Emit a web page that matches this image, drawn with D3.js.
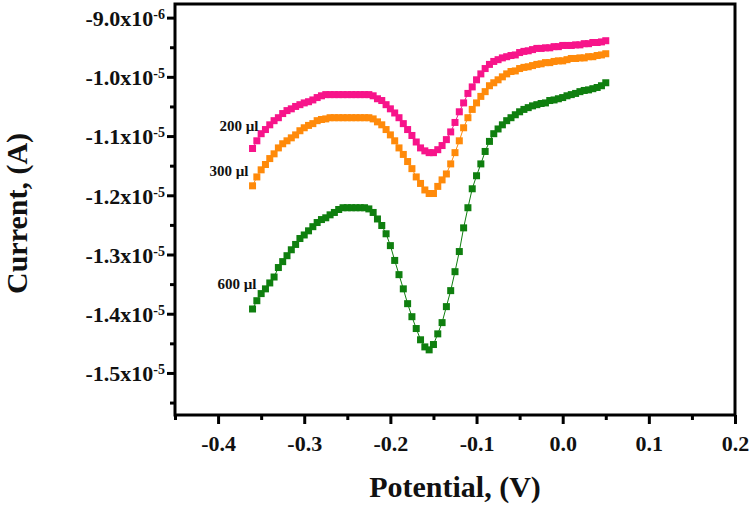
<!DOCTYPE html>
<html><head><meta charset="utf-8">
<script src="https://cdn.jsdelivr.net/npm/d3@7"></script>
<style>
body{margin:0;background:#fff}
svg{display:block}
.lbl{font-family:'Liberation Serif','Times New Roman',serif;font-weight:bold;fill:#111}
</style>
</head><body>
<svg id="c" width="750" height="508" viewBox="0 0 750 508"></svg>
<script>
const potential = [
-0.36,-0.355,-0.35,-0.345,-0.34,-0.335,-0.33,-0.325,-0.32,-0.315,
-0.31,-0.305,-0.3,-0.295,-0.29,-0.285,-0.28,-0.275,-0.27,-0.265,
-0.26,-0.255,-0.25,-0.245,-0.24,-0.235,-0.23,-0.225,-0.22,-0.215,
-0.21,-0.205,-0.2,-0.195,-0.19,-0.185,-0.18,-0.175,-0.17,-0.165,
-0.16,-0.155,-0.15,-0.145,-0.14,-0.135,-0.13,-0.125,-0.12,-0.115,
-0.11,-0.105,-0.1,-0.095,-0.09,-0.085,-0.08,-0.075,-0.07,-0.065,
-0.06,-0.055,-0.05,-0.045,-0.04,-0.035,-0.03,-0.025,-0.02,-0.015,
-0.01,-0.005,0,0.005,0.01,0.015,0.02,0.025,0.03,0.035,
0.04,0.045,0.05];
// currents in microampere (x1e-6 A)
const current200 = [
-11.21,-11.08,-10.96,-10.89,-10.81,-10.74,-10.69,-10.62,-10.57,-10.54,
-10.50,-10.47,-10.44,-10.42,-10.39,-10.35,-10.32,-10.30,-10.30,-10.30,
-10.30,-10.30,-10.30,-10.30,-10.30,-10.30,-10.30,-10.30,-10.32,-10.37,
-10.40,-10.47,-10.54,-10.61,-10.69,-10.79,-10.89,-10.99,-11.10,-11.20,
-11.25,-11.28,-11.28,-11.23,-11.16,-11.06,-10.93,-10.77,-10.59,-10.44,
-10.28,-10.17,-10.05,-9.95,-9.86,-9.79,-9.74,-9.71,-9.68,-9.66,
-9.64,-9.63,-9.59,-9.57,-9.56,-9.54,-9.52,-9.52,-9.51,-9.51,
-9.49,-9.49,-9.47,-9.47,-9.47,-9.46,-9.46,-9.44,-9.44,-9.42,
-9.42,-9.41,-9.39];
const current300 = [
-11.84,-11.69,-11.57,-11.48,-11.38,-11.30,-11.20,-11.13,-11.08,-11.03,
-10.98,-10.91,-10.86,-10.82,-10.79,-10.74,-10.72,-10.71,-10.69,-10.69,
-10.69,-10.69,-10.69,-10.69,-10.69,-10.69,-10.69,-10.69,-10.71,-10.76,
-10.81,-10.89,-10.98,-11.08,-11.20,-11.31,-11.43,-11.55,-11.69,-11.80,
-11.91,-11.97,-11.97,-11.85,-11.74,-11.64,-11.47,-11.28,-11.08,-10.86,
-10.69,-10.55,-10.44,-10.33,-10.25,-10.15,-10.10,-10.05,-10.00,-9.95,
-9.91,-9.90,-9.86,-9.84,-9.83,-9.81,-9.79,-9.78,-9.76,-9.76,
-9.74,-9.73,-9.73,-9.71,-9.69,-9.69,-9.68,-9.68,-9.66,-9.66,
-9.64,-9.63,-9.61];
const current600 = [
-13.92,-13.78,-13.66,-13.58,-13.48,-13.38,-13.22,-13.12,-13.02,-12.92,
-12.83,-12.73,-12.67,-12.60,-12.53,-12.46,-12.41,-12.38,-12.33,-12.29,
-12.24,-12.21,-12.21,-12.21,-12.21,-12.21,-12.21,-12.23,-12.29,-12.40,
-12.51,-12.65,-12.85,-13.10,-13.34,-13.58,-13.83,-14.05,-14.25,-14.44,
-14.56,-14.61,-14.52,-14.34,-14.15,-13.88,-13.61,-13.29,-12.95,-12.55,
-12.21,-11.89,-11.67,-11.47,-11.26,-11.09,-10.96,-10.88,-10.81,-10.74,
-10.69,-10.64,-10.59,-10.55,-10.52,-10.49,-10.47,-10.45,-10.44,-10.40,
-10.39,-10.37,-10.35,-10.32,-10.30,-10.28,-10.25,-10.23,-10.22,-10.20,
-10.18,-10.15,-10.10];
const seriesNames = ["200 µl","300 µl","600 µl"];
const seriesColors = ["#f7148a","#ff8a0a","#0f7f0f"];
const xTicks = [-0.4,-0.3,-0.2,-0.1,0.0,0.1,0.2];
const xTickLabels = ["-0.4","-0.3","-0.2","-0.1","0.0","0.1","0.2"];
const xMinorTicks = [-0.45,-0.35,-0.25,-0.15,-0.05,0.05,0.15];
const yTicks = [-9,-10,-11,-12,-13,-14,-15];
const yTickMantissa = ["-9.0","-1.0","-1.1","-1.2","-1.3","-1.4","-1.5"];
const yTickExponent = ["-6","-5","-5","-5","-5","-5","-5"];
const yMinorTicks = [-9.5,-10.5,-11.5,-12.5,-13.5,-14.5,-15.5];

const L=175,R=735,T=4,B=415;
const svg=d3.select("#c");
const x=d3.scaleLinear().domain([-0.45,0.2]).range([L,R]);
const y=d3.scaleLinear().domain([-15.71,-8.77]).range([B,T]);

// frame: plot area box
svg.append("rect").attr("x",L).attr("y",T).attr("width",R-L).attr("height",B-T)
  .attr("fill","none").attr("stroke","#000").attr("stroke-width",3);

const series=[current200,current300,current600];
const labelOffset=[[6,-18],[-4,-10],[4,-20]];
series.forEach((vals,k)=>{
  const pts=potential.map((p,i)=>[p,vals[i]]);
  svg.append("path").datum(pts)
    .attr("d",d3.line().x(d=>x(d[0])).y(d=>y(d[1])))
    .attr("fill","none").attr("stroke",seriesColors[k]).attr("stroke-width",1);
  svg.append("g").selectAll("rect").data(pts).join("rect")
    .attr("x",d=>x(d[0])-3.5).attr("y",d=>y(d[1])-3.5)
    .attr("width",7).attr("height",7).attr("fill",seriesColors[k]);
  svg.append("text").attr("class","lbl").attr("font-size",15)
    .attr("x",x(potential[0])+labelOffset[k][0]).attr("y",y(vals[0])+labelOffset[k][1])
    .attr("text-anchor","end").text(seriesNames[k]);
});

const gx=svg.append("g").attr("transform",`translate(0,${B})`)
  .call(d3.axisBottom(x).tickValues(xTicks).tickSize(9).tickSizeOuter(0).tickPadding(11).tickFormat((d,i)=>xTickLabels[i]));
const gxm=svg.append("g").attr("transform",`translate(0,${B})`)
  .call(d3.axisBottom(x).tickValues(xMinorTicks).tickSize(5).tickSizeOuter(0).tickFormat(""));
const gy=svg.append("g").attr("transform",`translate(${L},0)`)
  .call(d3.axisLeft(y).tickValues(yTicks).tickSize(8).tickSizeOuter(0).tickFormat(""));
const gym=svg.append("g").attr("transform",`translate(${L},0)`)
  .call(d3.axisLeft(y).tickValues(yMinorTicks).tickSize(5).tickSizeOuter(0).tickFormat(""));
[gx,gxm,gy,gym].forEach(g=>{
  g.select(".domain").remove();
  g.selectAll(".tick line").attr("stroke","#000").attr("stroke-width",3);
  g.attr("font-family",null).attr("font-size",null);
});
gx.selectAll(".tick text").attr("class","lbl").attr("fill","#111").attr("font-size",22);
gy.selectAll(".tick").each(function(d,i){
  const t=d3.select(this).append("text").attr("class","lbl").attr("font-size",22)
    .attr("x",-10).attr("dy","0.36em").attr("text-anchor","end");
  t.append("tspan").text(yTickMantissa[i]+"x10");
  t.append("tspan").attr("dy","-0.5em").attr("font-size",14).text(yTickExponent[i]);
});

svg.append("text").attr("class","lbl").attr("font-size",30)
  .attr("x",(L+R)/2).attr("y",497).attr("text-anchor","middle").text("Potential, (V)");
svg.append("text").attr("class","lbl").attr("font-size",30)
  .attr("transform",`translate(27,${(T+B)/2+4}) rotate(-90)`).attr("text-anchor","middle").text("Current, (A)");
</script>
</body></html>
